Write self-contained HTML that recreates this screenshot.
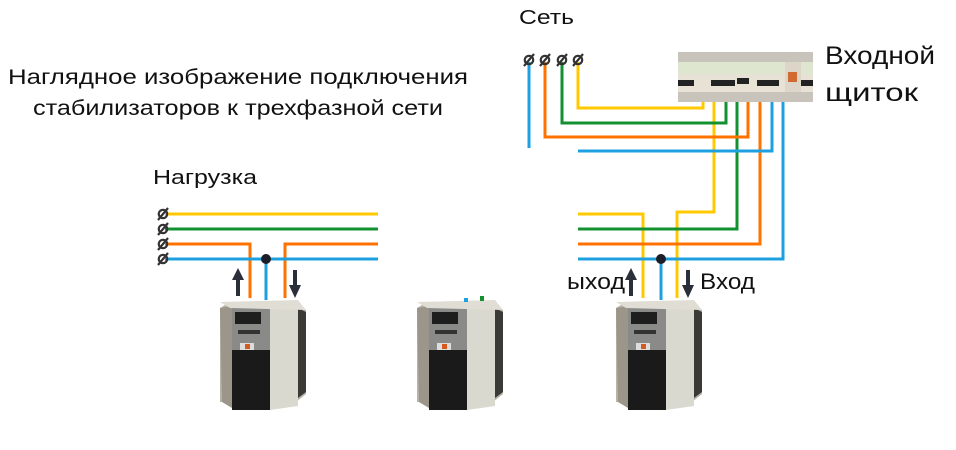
<!DOCTYPE html>
<html><head><meta charset="utf-8"><style>
body{margin:0;background:#fff}
svg{display:block}
text{font-family:"Liberation Sans","DejaVu Sans",sans-serif;fill:#111}
</style></head><body>
<svg width="956" height="450" viewBox="0 0 956 450" xmlns="http://www.w3.org/2000/svg">
<defs>
<g id="stab">
  <path d="M2,10 L12,4 L80,4 L88,12 L88,96 L78,104 L2,104 Z" fill="#b8b4a8"/>
  <path d="M2,10 L14,8 L14,110 L4,104 Z" fill="#9c968a"/>
  <rect x="14" y="8" width="38" height="104" fill="#8a8a88"/>
  <rect x="17" y="14" width="26" height="12" fill="#1e1e1e"/>
  <rect x="20" y="32" width="22" height="4" fill="#333"/>
  <rect x="14" y="52" width="38" height="60" fill="#1a1a1a"/>
  <rect x="22" y="45" width="14" height="7" fill="#ddd"/>
  <rect x="27" y="46" width="5" height="5" fill="#d65a20"/>
  <path d="M52,8 L80,6 L80,108 L52,112 Z" fill="#d9d9cf"/>
  <path d="M80,10 L88,14 L88,94 L80,100 Z" fill="#3a3a36"/>
  <path d="M2,4 L80,2 L88,12 L12,10 Z" fill="#e0ddd4"/>
</g>
<g id="term" fill="none" stroke="#333" stroke-width="2.2">
  <circle cx="0" cy="0" r="4.2"/>
  <line x1="-5" y1="6" x2="5" y2="-6"/>
</g>
</defs>

<text x="8" y="84" font-size="21" textLength="460" lengthAdjust="spacingAndGlyphs">Наглядное изображение подключения</text>
<text x="33" y="115" font-size="21" textLength="410" lengthAdjust="spacingAndGlyphs">стабилизаторов к трехфазной сети</text>
<text x="153" y="184" font-size="20" textLength="104" lengthAdjust="spacingAndGlyphs">Нагрузка</text>
<text x="519" y="24" font-size="20" textLength="55" lengthAdjust="spacingAndGlyphs">Сеть</text>
<text x="825" y="64" font-size="25" textLength="110" lengthAdjust="spacingAndGlyphs">Входной</text>
<text x="825" y="101" font-size="25" textLength="93" lengthAdjust="spacingAndGlyphs">щиток</text>

<g fill="none" stroke-width="3">
  <line x1="165" y1="214" x2="378" y2="214" stroke="#ffc800"/>
  <line x1="165" y1="229" x2="378" y2="229" stroke="#139030"/>
  <path d="M165,244 H250 V298 M378,244 H285 V298" stroke="#ff7200"/>
  <path d="M165,259 H378 M266,259 V300" stroke="#1ea0e0"/>
  <path d="M578,214 H643 V298" stroke="#ffc800"/>
  <path d="M714,102 V212 H677 V298" stroke="#ffc800"/>
  <path d="M578,229 H737 V102" stroke="#139030"/>
  <path d="M578,244 H760 V102" stroke="#ff7200"/>
  <path d="M578,259 H783 V102 M661,259 V300" stroke="#1ea0e0"/>
  <path d="M578,62 V108 H703 V102" stroke="#ffc800"/>
  <path d="M562,62 V123 H726 V102" stroke="#139030"/>
  <path d="M545,62 V137 H748 V102" stroke="#ff7200"/>
  <path d="M529,62 V148 M578,151 H772 V102" stroke="#1ea0e0"/>
</g>
<circle cx="266" cy="259" r="5" fill="#1a1f2a"/>
<circle cx="661" cy="259" r="5" fill="#1a1f2a"/>

<use href="#term" x="163" y="214"/>
<use href="#term" x="163" y="229"/>
<use href="#term" x="163" y="244"/>
<use href="#term" x="163" y="259"/>
<use href="#term" x="529" y="60"/>
<use href="#term" x="545" y="60"/>
<use href="#term" x="562" y="60"/>
<use href="#term" x="578" y="60"/>

<g fill="#2a2f3a">
  <path d="M236,296 V280 H232 L238,268 L244,280 H240 V296Z"/>
  <path d="M293,270 V285 H289 L295,298 L301,285 H297 V270Z"/>
  <path d="M629,296 V280 H625 L631,268 L637,280 H633 V296Z"/>
  <path d="M686,270 V285 H682 L688,298 L694,285 H690 V270Z"/>
</g>
<text x="567" y="289" font-size="22" textLength="58" lengthAdjust="spacingAndGlyphs">ыход</text>
<text x="700" y="289" font-size="22" textLength="55" lengthAdjust="spacingAndGlyphs">Вход</text>

<g>
  <rect x="678" y="52" width="135" height="50" fill="#e8e2d6"/>
  <rect x="678" y="52" width="135" height="10" fill="#c8c4bc"/>
  <rect x="678" y="92" width="135" height="10" fill="#c8c4bc"/>
  <rect x="678" y="62" width="135" height="12" fill="#dfe6d0"/>
  <rect x="678" y="80" width="16" height="6" fill="#222"/>
  <rect x="711" y="80" width="24" height="6" fill="#222"/>
  <rect x="737" y="78" width="12" height="6" fill="#222"/>
  <rect x="757" y="80" width="22" height="6" fill="#222"/>
  <rect x="800" y="80" width="13" height="6" fill="#222"/>
  <rect x="785" y="62" width="16" height="30" fill="#ddd5c8"/>
  <rect x="788" y="72" width="9" height="10" fill="#d06a30"/>
</g>

<use href="#stab" x="218" y="298"/>
<use href="#stab" x="415" y="298"/>
<rect x="464" y="298" width="4" height="4" fill="#1ea0e0"/>
<rect x="480" y="296" width="4" height="5" fill="#139030"/>
<use href="#stab" x="614" y="298"/>
</svg>
</body></html>
